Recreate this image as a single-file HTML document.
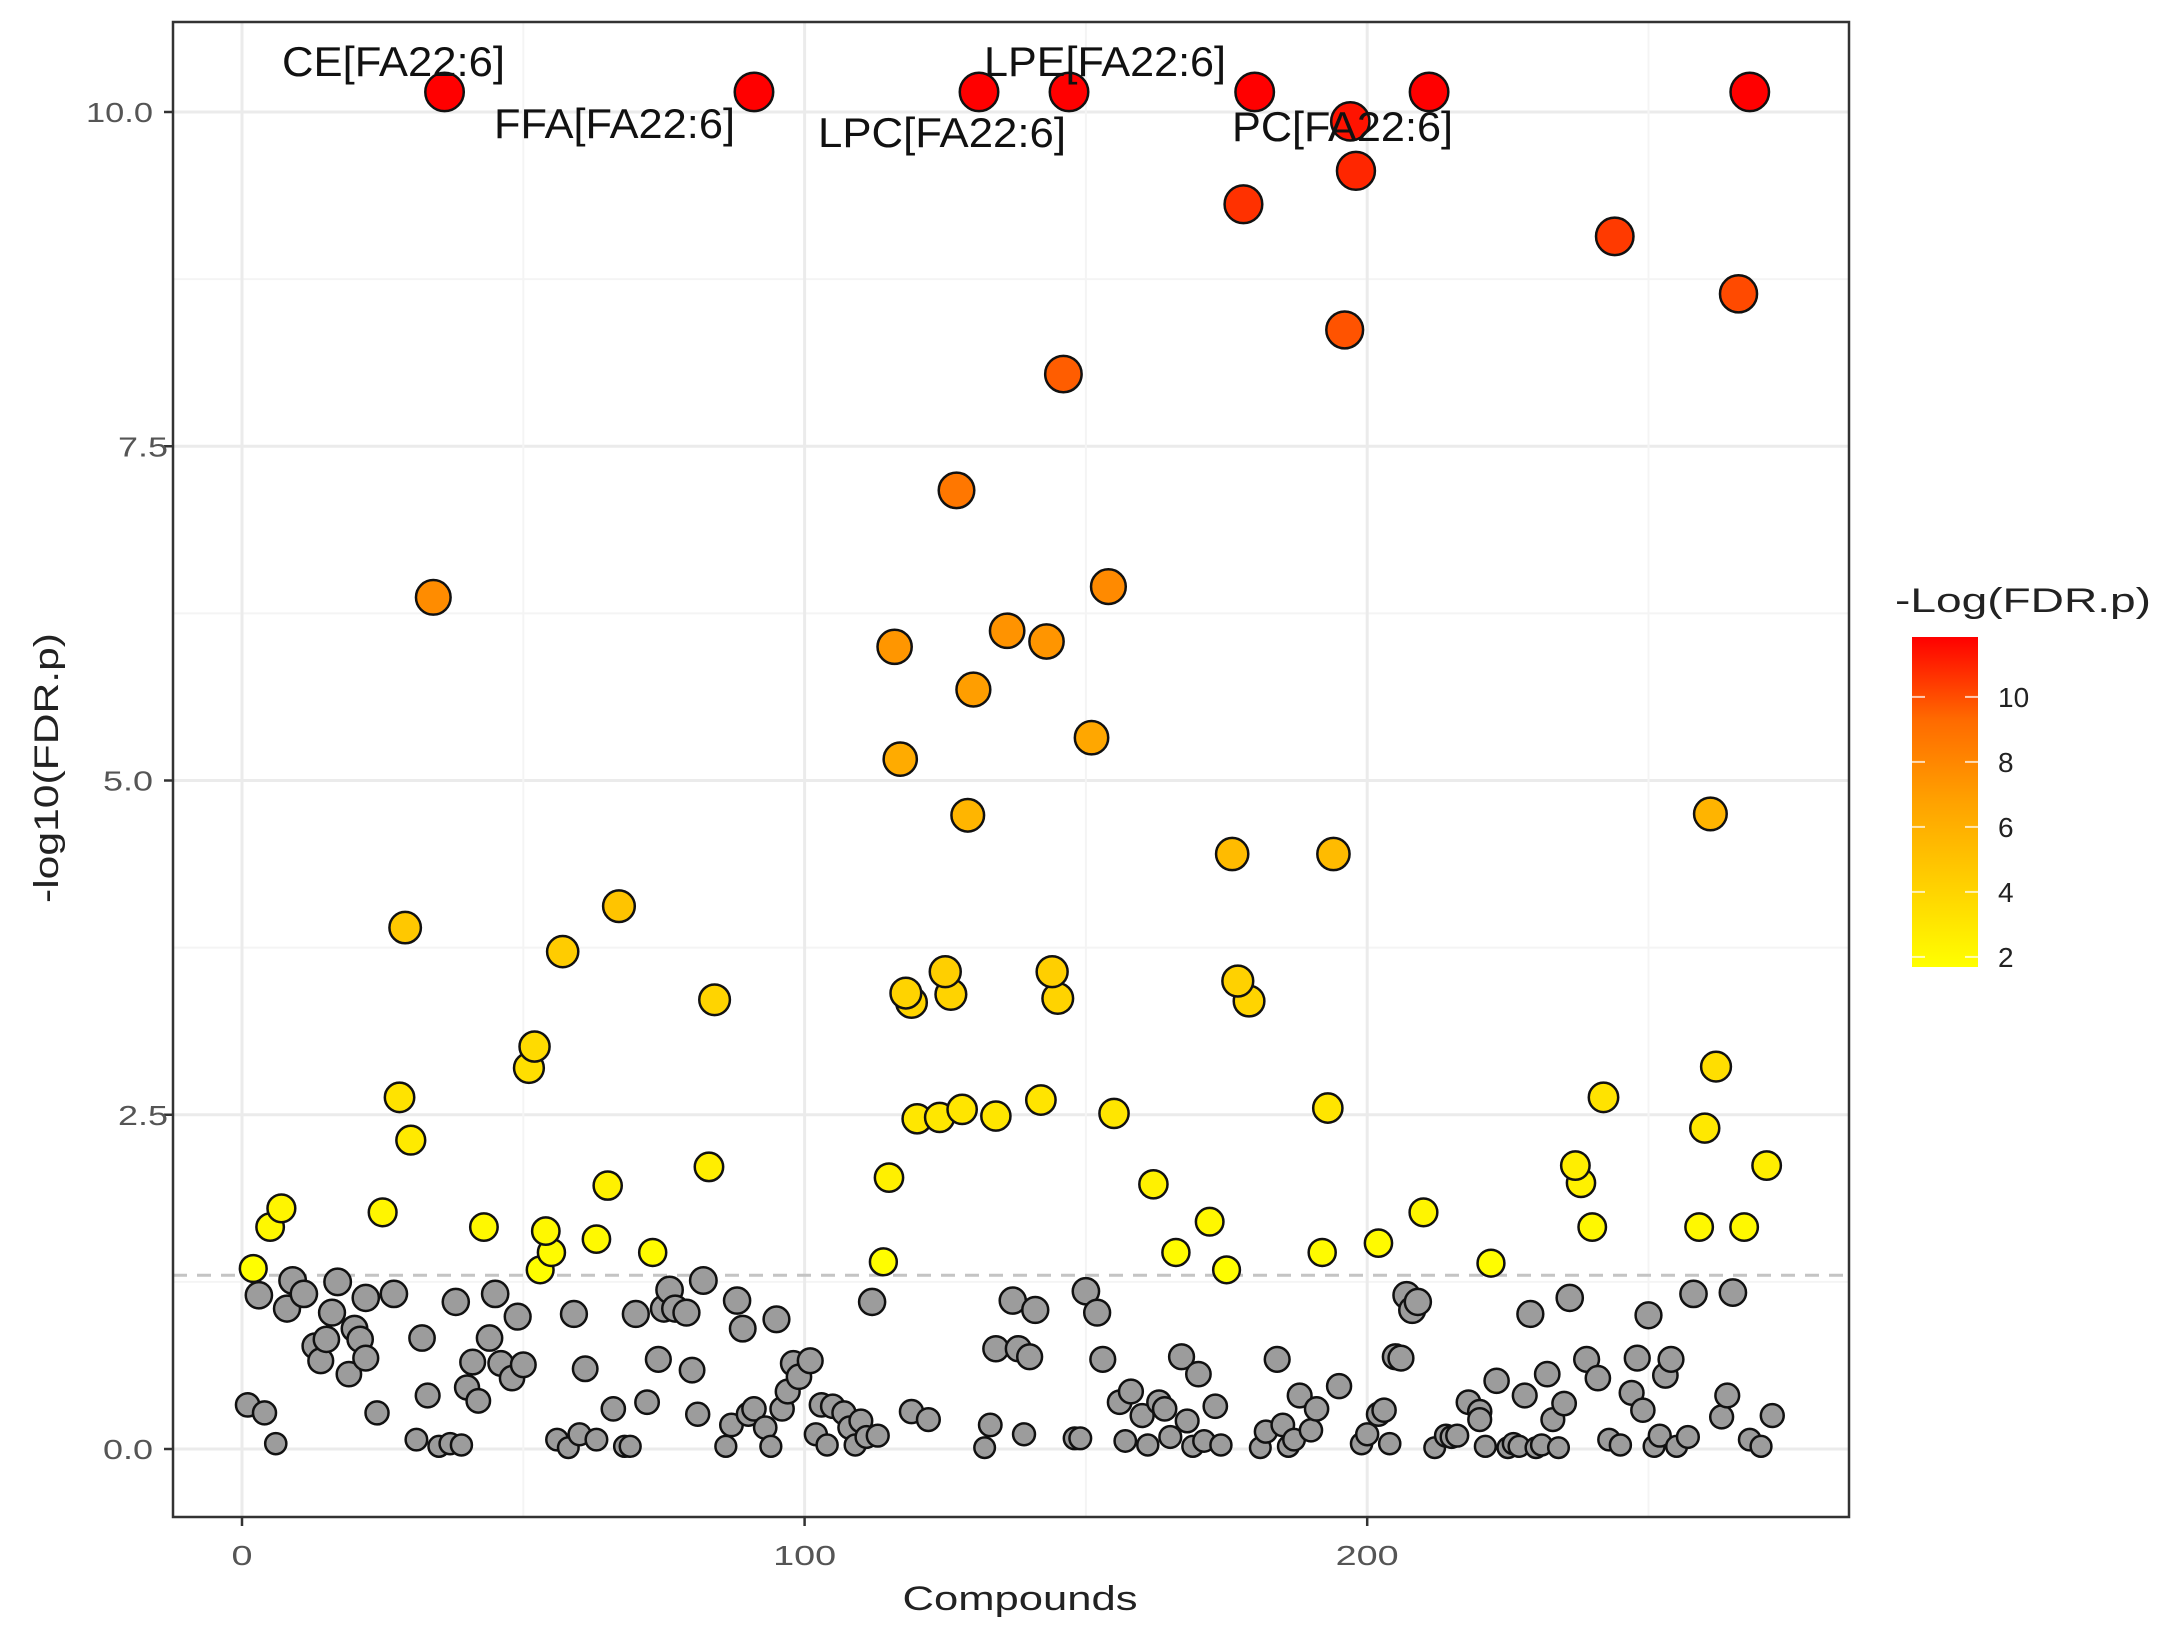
<!DOCTYPE html>
<html><head><meta charset="utf-8"><style>
html,body{margin:0;padding:0;background:#fff;}
svg{display:block;font-family:"Liberation Sans",sans-serif;}
</style></head><body>
<svg id="chart" width="2170" height="1646" viewBox="0 0 2170 1646">
<defs>
<linearGradient id="cbar" x1="0" y1="1" x2="0" y2="0">
<stop offset="0" stop-color="#FFFF00"/><stop offset="0.25" stop-color="#FFD000"/><stop offset="0.5" stop-color="#FFA200"/><stop offset="0.75" stop-color="#FF6A00"/><stop offset="1" stop-color="#FF0000"/>
</linearGradient>
</defs>
<rect x="173" y="22" width="1676" height="1495" fill="#fff"/>
<g id="grid"></g>
<g id="pts"></g>
<g id="labels"></g>
<rect x="173" y="22" width="1676" height="1495" fill="none" stroke="#333" stroke-width="2.5"/>
<g id="axes"></g>
<text x="1020" y="1610" font-size="34" fill="#222" text-anchor="middle" textLength="235" lengthAdjust="spacingAndGlyphs">Compounds</text>
<text transform="translate(58,768) rotate(-90)" font-size="34" fill="#222" text-anchor="middle" textLength="270" lengthAdjust="spacingAndGlyphs">-log10(FDR.p)</text>
<g>
<text x="1895" y="612" font-size="34" fill="#222" textLength="256" lengthAdjust="spacingAndGlyphs">-Log(FDR.p)</text>
<rect x="1912" y="637" width="66" height="330" fill="url(#cbar)"/>
<g id="cbticks"></g>
</g>
</svg>
<script>
const xTicks=[0,100,200];
const yTicks=[0,2.5,5,7.5,10];
const yTickLabels=["0.0","2.5","5.0","7.5","10.0"];
const cbTicks=[2,4,6,8,10];
const threshold=1.3;
const colX=[36,91,131,147,180,211,268,197,198,178,244,266,196,146,127,34,154,116,136,143,130,151,117,129,261,176,194,67,29,57,84,125,118,119,126,144,145,177,179,52,51,28,30,262,242,142,128,120,124,134,155,193,260,237,238,271,83,65,115,162,7,5,25,43,54,55,53,63,73,2,114,172,166,175,192,202,210,222,240,259,267];
const colY=[10.15,10.15,10.15,10.15,10.15,10.15,10.15,9.93,9.56,9.31,9.07,8.64,8.37,8.04,7.17,6.37,6.45,6.0,6.12,6.04,5.68,5.32,5.16,4.74,4.75,4.45,4.45,4.06,3.90,3.72,3.36,3.57,3.41,3.34,3.40,3.57,3.37,3.50,3.35,3.01,2.85,2.63,2.31,2.86,2.63,2.61,2.54,2.47,2.48,2.49,2.51,2.55,2.40,2.12,1.99,2.12,2.11,1.97,2.03,1.98,1.80,1.66,1.77,1.66,1.63,1.47,1.34,1.57,1.47,1.35,1.40,1.70,1.47,1.34,1.47,1.54,1.77,1.39,1.66,1.66,1.66];
const grayX=[3,1,4,6,8,9,11,13,14,15,16,17,19,20,21,22,22,24,27,31,32,33,35,37,39,38,40,41,42,44,45,46,48,49,50,56,58,59,60,61,63,66,68,69,70,72,74,75,76,77,79,80,82,81,86,87,88,89,90,91,93,94,95,96,97,98,99,101,102,103,104,105,107,108,109,110,111,113,112,119,122,132,133,134,137,138,139,140,141,148,149,150,152,153,156,157,158,160,161,163,164,165,167,168,169,170,171,173,174,181,182,184,185,186,187,188,190,191,195,199,200,202,203,204,205,206,207,208,209,212,214,215,216,218,220,220,221,223,225,226,227,228,229,230,231,232,233,234,235,236,239,241,243,245,247,248,249,250,251,252,253,254,255,257,258,263,264,265,268,270,272];
const grayY=[1.15,0.33,0.27,0.04,1.05,1.26,1.16,0.77,0.66,0.82,1.02,1.25,0.56,0.9,0.82,1.13,0.68,0.27,1.16,0.07,0.83,0.4,0.02,0.04,0.03,1.1,0.46,0.65,0.36,0.83,1.16,0.64,0.53,0.99,0.63,0.07,0.01,1.01,0.11,0.6,0.07,0.3,0.02,0.02,1.01,0.35,0.67,1.05,1.19,1.05,1.02,0.59,1.26,0.26,0.02,0.18,1.11,0.9,0.26,0.3,0.16,0.02,0.97,0.3,0.43,0.64,0.54,0.66,0.11,0.33,0.03,0.32,0.27,0.16,0.03,0.21,0.09,0.1,1.1,0.28,0.22,0.01,0.18,0.75,1.11,0.75,0.11,0.69,1.04,0.08,0.08,1.18,1.02,0.67,0.35,0.06,0.43,0.25,0.03,0.35,0.3,0.09,0.69,0.21,0.02,0.56,0.06,0.32,0.03,0.01,0.13,0.67,0.18,0.02,0.07,0.4,0.14,0.3,0.47,0.04,0.11,0.26,0.29,0.04,0.69,0.68,1.15,1.04,1.1,0.01,0.1,0.09,0.1,0.35,0.28,0.22,0.02,0.51,0.01,0.04,0.02,0.4,1.01,0.01,0.03,0.56,0.22,0.01,0.34,1.13,0.67,0.53,0.07,0.03,0.42,0.68,0.29,1.0,0.02,0.1,0.55,0.67,0.02,0.09,1.16,0.24,0.4,1.17,0.07,0.02,0.25];
const labelText=["CE[FA22:6]","FFA[FA22:6]","LPC[FA22:6]","LPE[FA22:6]","PC[FA22:6]"];
const labelX=[282,494,818,984,1232];
const labelBase=[76,138,147,76,141];
const labelW=[223,241,248,242,221];

const NS="http://www.w3.org/2000/svg";
const X=v=>242+v*5.626;
const Y=v=>1449-v*133.7;
const CB=v=>967-(v-1.69)*32.5;
function mk(tag,attrs,parent){const e=document.createElementNS(NS,tag);for(const k in attrs)e.setAttribute(k,attrs[k]);parent.appendChild(e);return e;}
const grid=document.getElementById('grid');
for(let v=-1.25;v<=11;v+=1.25){const y=Y(v);if(y<22||y>1517)continue;const major=Math.abs(v/2.5-Math.round(v/2.5))<1e-6;
const l=mk('line',{x1:173,x2:1849,y1:y,y2:y,stroke:major?'#ebebeb':'#f4f4f4','stroke-width':major?3:2},grid);

}
for(let v=-50;v<=300;v+=50){const x=X(v);if(x<173||x>1849)continue;const major=v%100===0;
const l=mk('line',{y1:22,y2:1517,x1:x,x2:x,stroke:major?'#ebebeb':'#f4f4f4','stroke-width':major?3:2},grid);

}
const ty=threshold;
const dl=mk('line',{x1:173,x2:1849,y1:Y(ty),y2:Y(ty),stroke:'#c4c4c4','stroke-width':3,'stroke-dasharray':'14 10'},grid);



function colorFor(y){let c=1.7+(y-1.3)*(11.85-1.7)/(10.15-1.3);let t=(c-1.69)/(11.85-1.69);t=Math.max(0,Math.min(1,t));
const g=Math.round(255*Math.pow(1-t,0.7));return 'rgb(255,'+g+',0)';}
const R=y=>10+2.9*Math.sqrt(Math.max(0,y));
const pts=document.getElementById('pts');
for(let i=0;i<grayX.length;i++){const c=mk('circle',{cx:X(grayX[i]),cy:Y(grayY[i]),r:R(grayY[i]),fill:'#9c9c9c',stroke:'#111','stroke-width':2.5},pts);

}
const order=colY.map((v,i)=>i).sort((a,b)=>colY[a]-colY[b]);
for(const i of order){const c=mk('circle',{cx:X(colX[i]),cy:Y(colY[i]),r:R(colY[i]),fill:colorFor(colY[i]),stroke:'#111','stroke-width':2.5},pts);

}
const lab=document.getElementById('labels');
for(let i=0;i<labelText.length;i++){const t=mk('text',{x:labelX[i],y:labelBase[i],'font-size':42,fill:'#111',textLength:labelW[i],lengthAdjust:'spacingAndGlyphs'},lab);t.textContent=labelText[i];

}
const ax=document.getElementById('axes');
for(let i=0;i<yTicks.length;i++){const y=Y(yTicks[i]);
const tk=mk('line',{x1:164,x2:173,y1:y,y2:y,stroke:'#333','stroke-width':2.5},ax);


const s=yTickLabels[i];const t=mk('text',{x:s.length>3?153:(yTicks[i]===7.5||yTicks[i]===2.5?168:153),y:y+10,'font-size':28,fill:'#555','text-anchor':'end',textLength:s.length>3?67:50,lengthAdjust:'spacingAndGlyphs'},ax);t.textContent=s;

}
for(let i=0;i<xTicks.length;i++){const x=X(xTicks[i]);
const tk=mk('line',{x1:x,x2:x,y1:1517,y2:1526,stroke:'#333','stroke-width':2.5},ax);


const s=String(xTicks[i]);const t=mk('text',{x:x,y:1565,'font-size':28,fill:'#555','text-anchor':'middle',textLength:s.length*21,lengthAdjust:'spacingAndGlyphs'},ax);t.textContent=s;

}
const cbt=document.getElementById('cbticks');
for(const v of cbTicks){const y=CB(v);
mk('line',{x1:1912,x2:1925,y1:y,y2:y,stroke:'#fff','stroke-width':2,opacity:0.7},cbt);
mk('line',{x1:1965,x2:1978,y1:y,y2:y,stroke:'#fff','stroke-width':2,opacity:0.7},cbt);
const t=mk('text',{x:1998,y:y+10,'font-size':28,fill:'#222'},cbt);t.textContent=String(v);

}
</script>
</body></html>
